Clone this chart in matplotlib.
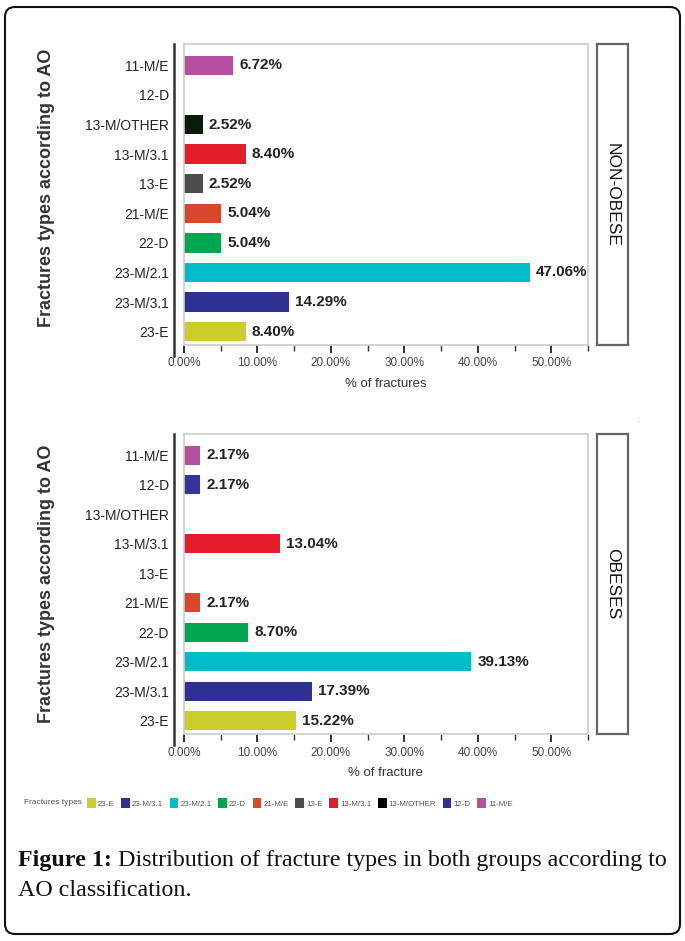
import numpy as np
import matplotlib
matplotlib.use('Agg')
import matplotlib.pyplot as plt
from matplotlib.patches import FancyBboxPatch, Patch
from matplotlib.lines import Line2D
from matplotlib.transforms import IdentityTransform

# categories, top to bottom as drawn
categories = ['11-M/E', '12-D', '13-M/OTHER', '13-M/3.1', '13-E',
              '21-M/E', '22-D', '23-M/2.1', '23-M/3.1', '23-E']
non_obese = [6.72, 0, 2.52, 8.40, 2.52, 5.04, 5.04, 47.06, 14.29, 8.40]
obese = [2.17, 2.17, 0, 13.04, 0, 2.17, 8.70, 39.13, 17.39, 15.22]
bar_colors = ['#b4509f', '#35349a', '#0c1a0e', '#e31e2b', '#4d4d4d',
              '#d8482c', '#00a651', '#00bcc6', '#2e3192', '#cbcd2c']
x_ticks = [0, 10, 20, 30, 40, 50]
x_tick_labels = ['0.00%', '10.00%', '20.00%', '30.00%', '40.00%', '50.00%']
legend_order = ['23-E', '23-M/3.1', '23-M/2.1', '22-D', '21-M/E', '13-E',
                '13-M/3.1', '13-M/OTHER', '12-D', '11-M/E']
legend_colors = ['#cbcd2c', '#2e3192', '#00bcc6', '#00a651', '#d8482c', '#4d4d4d',
                 '#e31e2b', '#000000', '#2e3192', '#b4509f']

sans = ['Liberation Sans Narrow', 'Liberation Sans', 'DejaVu Sans']
plt.rcParams['font.family'] = sans

W, H = 685, 941
fig = plt.figure(figsize=(W / 100, H / 100), dpi=100)


def fx(px):
    return px / W


def fy(py):
    return 1 - py / H


def panel(top, bottom, values, strip_text, xlabel):
    ax = fig.add_axes([fx(184), fy(bottom), fx(588) - fx(184), fy(top) - fy(bottom)])
    ypos = np.arange(len(categories))[::-1]
    for y, v, c in zip(ypos, values, bar_colors):
        if v > 0:
            ax.barh(y, v, height=0.65, color=c, edgecolor='none')
            ax.annotate(f'{v:.2f}%', (v, y), xytext=(4.5, 0), textcoords='offset points',
                        va='center', ha='left', fontsize=11, fontweight='bold',
                        color='#222222')
    ax.set_xlim(0, 55)
    ax.set_ylim(-0.45, 9.72)
    ax.set_yticks(ypos)
    ax.set_yticklabels(categories, fontsize=10, color='#222222')
    ax.tick_params(axis='y', length=0, pad=11)
    ax.set_xticks(x_ticks)
    ax.set_xticklabels(x_tick_labels, fontsize=8.5, color='#444444')
    ax.set_xticks(np.arange(5, 56, 10), minor=True)
    ax.tick_params(axis='x', which='major', length=6, width=1.4, color='#333333', pad=3)
    ax.tick_params(axis='x', which='minor', length=4, width=1.0, color='#333333')
    ax.set_xlabel(xlabel, fontsize=9.5, color='#333333', labelpad=6)
    for s in ax.spines.values():
        s.set_color('#cccccc')
        s.set_linewidth(1.2)
    # dark axis line standing a little left of the box
    ax.add_line(Line2D([-0.025, -0.025], [1.0, -0.035], transform=ax.transAxes,
                       color='#333333', lw=1.8, clip_on=False))

    sx = fig.add_axes([fx(597), fy(bottom), fx(628) - fx(597), fy(top) - fy(bottom)])
    sx.set_xticks([])
    sx.set_yticks([])
    for s in sx.spines.values():
        s.set_color('#666666')
        s.set_linewidth(1.6)
    sx.text(0.5, 0.5, strip_text, rotation=-90, ha='center', va='center',
            fontsize=12.5, family=['Liberation Sans', 'DejaVu Sans'],
            color='#111111', transform=sx.transAxes)
    return ax


panel(44, 345, non_obese, 'NON-OBESE', '% of fractures')
panel(434, 734, obese, 'OBESES', '% of fracture')

ylab = 'Fractures types according to AO'
for yc in (188, 584):
    fig.text(fx(47), fy(yc), ylab, rotation=90, ha='center', va='center',
             fontsize=13, fontweight='bold', color='#333333')

# stray dot in the original scan
fig.text(fx(638), fy(420), '.', fontsize=6, color='#777777', ha='center', va='center')

# legend strip
fig.text(fx(24), fy(803), 'Fractures types', fontsize=6, color='#555555',
         ha='left', va='center')
handles = [Patch(facecolor=c, edgecolor='none', label=l)
           for l, c in zip(legend_order, legend_colors)]
fig.legend(handles=handles, loc='center left', bbox_to_anchor=(fx(83), fy(803)),
           ncol=10, frameon=False, fontsize=5.7, handlelength=1.1, handleheight=1.4,
           handletextpad=0.25, columnspacing=0.85, labelcolor='#555555', borderpad=0)

# caption
serif = ['Liberation Serif', 'DejaVu Serif']
t1 = fig.text(fx(18), fy(866), 'Figure 1:', fontsize=17.3, fontweight='bold',
              family=serif, color='#111111', va='baseline')
fig.add_artist(plt.Annotation(' Distribution of fracture types in both groups according to',
                              xy=(1, 0), xycoords=t1, va='bottom', ha='left',
                              fontsize=17.3, family=serif, color='#111111'))
fig.text(fx(18), fy(896), 'AO classification.', fontsize=17.3, family=serif,
         color='#111111', va='baseline')

# rounded outer frame
fig.add_artist(FancyBboxPatch((5, 7), 675, 927, boxstyle='round,pad=0,rounding_size=10',
                              transform=IdentityTransform(), facecolor='none',
                              edgecolor='#111111', lw=1.5))

fig.savefig('out.png', dpi=100)
